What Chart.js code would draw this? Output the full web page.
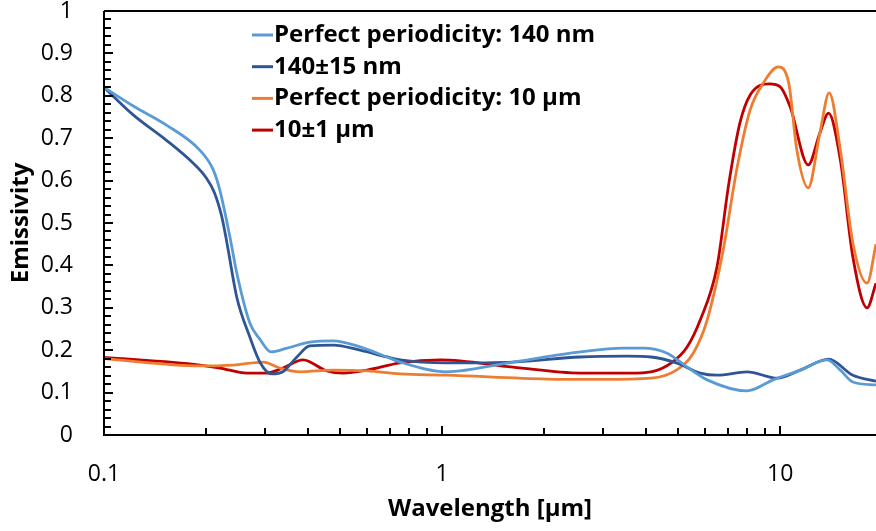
<!DOCTYPE html>
<html>
<head>
<meta charset="utf-8">
<script src="https://cdn.jsdelivr.net/npm/chart.js@4/dist/chart.umd.min.js"></script>
<style>
  html, body { margin: 0; padding: 0; background: #fff; }
  #wrap { width: 876px; height: 531px; }
</style>
</head>
<body>
<div id="wrap"><canvas id="c" width="876" height="531"></canvas></div>
<script>
// Emissivity vs wavelength.

const seriesLabels = ["Perfect periodicity: 140 nm", "140±15 nm", "Perfect periodicity: 10 µm", "10±1 µm"];
const seriesColors = ["#5B9BD5", "#2F5597", "#ED7D31", "#C00000"];

const light140X = [0.1, 0.122, 0.153, 0.192, 0.21, 0.22, 0.236, 0.247, 0.27, 0.289, 0.312, 0.348, 0.406, 0.476, 0.572, 0.687, 0.751, 1.03, 1.62, 2.56, 3.43, 3.93, 4.63, 5.31, 6.08, 7.98, 9.53, 11.46, 13.77, 15.06, 16.4, 19.2];
const light140Y = [0.82, 0.776, 0.731, 0.672, 0.627, 0.578, 0.465, 0.382, 0.264, 0.226, 0.196, 0.205, 0.219, 0.222, 0.208, 0.184, 0.172, 0.149, 0.172, 0.196, 0.205, 0.205, 0.193, 0.16, 0.13, 0.104, 0.13, 0.153, 0.177, 0.153, 0.125, 0.118];

const dark140X = [0.1, 0.122, 0.153, 0.183, 0.2, 0.212, 0.223, 0.231, 0.247, 0.27, 0.29, 0.314, 0.338, 0.372, 0.406, 0.476, 0.572, 0.687, 0.751, 1.03, 1.62, 2.56, 3.53, 4.15, 4.93, 5.8, 6.5, 7.98, 9.8, 11.46, 13.9, 16.4, 19.2];
const dark140Y = [0.82, 0.755, 0.695, 0.642, 0.608, 0.572, 0.515, 0.453, 0.325, 0.231, 0.17, 0.144, 0.149, 0.184, 0.21, 0.212, 0.2, 0.184, 0.177, 0.17, 0.172, 0.184, 0.186, 0.184, 0.17, 0.146, 0.141, 0.149, 0.134, 0.153, 0.179, 0.141, 0.127];

const orange10X = [0.1, 0.192, 0.241, 0.296, 0.331, 0.38, 0.476, 0.6, 0.751, 1.03, 2.04, 3.0, 4.15, 4.93, 5.53, 6.08, 6.78, 7.46, 8.15, 8.91, 9.87, 10.6, 11.2, 12.1, 13.1, 13.96, 15.06, 16.4, 18.07, 19.2];
const orange10Y = [0.18, 0.163, 0.165, 0.172, 0.158, 0.149, 0.153, 0.151, 0.144, 0.141, 0.132, 0.131, 0.134, 0.153, 0.193, 0.271, 0.436, 0.632, 0.767, 0.83, 0.868, 0.83, 0.672, 0.583, 0.712, 0.807, 0.672, 0.453, 0.358, 0.45];

const red10X = [0.1, 0.192, 0.22, 0.265, 0.303, 0.338, 0.388, 0.456, 0.51, 0.6, 0.751, 0.99, 1.62, 2.56, 3.6, 4.15, 4.8, 5.31, 5.8, 6.5, 7.05, 7.6, 8.15, 9.3, 10.0, 10.7, 12.1, 13.1, 13.9, 15.06, 16.4, 18.07, 19.2];
const red10Y = [0.183, 0.165, 0.158, 0.146, 0.146, 0.158, 0.177, 0.151, 0.146, 0.153, 0.17, 0.177, 0.16, 0.146, 0.146, 0.149, 0.172, 0.208, 0.271, 0.396, 0.594, 0.736, 0.802, 0.828, 0.821, 0.774, 0.637, 0.712, 0.759, 0.649, 0.42, 0.3, 0.358];

const xTickValues = [0.1, 1, 10];
const xTickLabels = ["0.1", "1", "10"];
const xMinorTicks = [0.2, 0.3, 0.4, 0.5, 0.6, 0.7, 0.8, 0.9, 2, 3, 4, 5, 6, 7, 8, 9];

const FONT = "'Open Sans', sans-serif";

function pts(xs, ys) { return xs.map((x, i) => ({ x: x, y: ys[i] })); }

const allX = [light140X, dark140X, orange10X, red10X];
const allY = [light140Y, dark140Y, orange10Y, red10Y];

// eksen çizgileri + içe bakan tick'ler
const axesPlugin = {
  id: "axes",
  afterDatasetsDraw(chart) {
    const { ctx, chartArea: a, scales: { x, y } } = chart;
    ctx.save();
    ctx.strokeStyle = "#000";
    ctx.lineWidth = 2;
    ctx.beginPath();
    ctx.moveTo(a.left, a.top); ctx.lineTo(a.right, a.top);
    ctx.moveTo(a.left, a.top); ctx.lineTo(a.left, a.bottom);
    ctx.moveTo(a.left - 1, a.bottom); ctx.lineTo(a.right, a.bottom);
    for (let i = 0; i <= 50; i++) {
      const py = Math.round(y.getPixelForValue(i * 0.02));
      const len = i % 5 === 0 ? 9 : 7;
      ctx.moveTo(a.left, py); ctx.lineTo(a.left + len, py);
    }
    xTickValues.forEach(v => {
      const px = Math.round(x.getPixelForValue(v));
      ctx.moveTo(px, a.bottom); ctx.lineTo(px, a.bottom - 9);
    });
    xMinorTicks.forEach(v => {
      const px = Math.round(x.getPixelForValue(v));
      ctx.moveTo(px, a.bottom); ctx.lineTo(px, a.bottom - 7);
    });
    ctx.stroke();
    ctx.restore();
  }
};

// legend, çizim alanının içinde
const legendPlugin = {
  id: "inlineLegend",
  afterDraw(chart) {
    const ctx = chart.ctx;
    ctx.save();
    ctx.font = "bold 24px " + FONT;
    ctx.textBaseline = "middle";
    ctx.fillStyle = "#000";
    seriesLabels.forEach((lab, i) => {
      const cy = 35 + i * 31.7;
      ctx.strokeStyle = seriesColors[i];
      ctx.lineWidth = 3;
      ctx.beginPath();
      ctx.moveTo(252, cy); ctx.lineTo(273, cy);
      ctx.stroke();
      ctx.fillText(lab, 274, cy);
    });
    ctx.restore();
  }
};

new Chart(document.getElementById("c"), {
  type: "scatter",
  data: {
    datasets: seriesLabels.map((lab, i) => ({
      label: lab,
      data: pts(allX[i], allY[i]),
      showLine: true,
      borderColor: seriesColors[i],
      backgroundColor: seriesColors[i],
      borderWidth: 2.8,
      pointRadius: 0,
      cubicInterpolationMode: "monotone",
    })),
  },
  options: {
    responsive: false,
    animation: false,
    layout: { padding: { top: 11, right: 0, bottom: 0, left: 0 } },
    plugins: { legend: { display: false }, tooltip: { enabled: false } },
    scales: {
      x: {
        type: "logarithmic",
        min: 0.1,
        max: 19.2,
        afterBuildTicks: s => { s.ticks = xTickValues.map(v => ({ value: v })); },
        afterFit: s => { s.height = 96; s.paddingLeft = 0; s.paddingRight = 0; },
        grid: { display: false, drawTicks: false },
        border: { display: false },
        ticks: {
          autoSkip: false,
          maxRotation: 0,
          padding: 26,
          color: "#000",
          font: { family: FONT, size: 23 },
          callback: (v, i) => xTickLabels[i],
        },
        title: {
          display: true,
          text: "Wavelength [µm]",
          color: "#000",
          font: { family: FONT, size: 24, weight: "bold" },
          padding: { top: 0, bottom: 7 },
        },
      },
      y: {
        min: 0,
        max: 1,
        afterFit: s => { s.width = 104; s.paddingTop = 0; s.paddingBottom = 0; },
        grid: { display: false, drawTicks: false },
        border: { display: false },
        ticks: {
          stepSize: 0.1,
          padding: 31,
          color: "#000",
          font: { family: FONT, size: 23 },
          callback: v => String(Number(v.toFixed(1))),
        },
        title: {
          display: true,
          text: "Emissivity",
          color: "#000",
          font: { family: FONT, size: 24, weight: "bold" },
          padding: { top: 7, bottom: 0 },
        },
      },
    },
  },
  plugins: [axesPlugin, legendPlugin],
});
</script>
</body>
</html>
